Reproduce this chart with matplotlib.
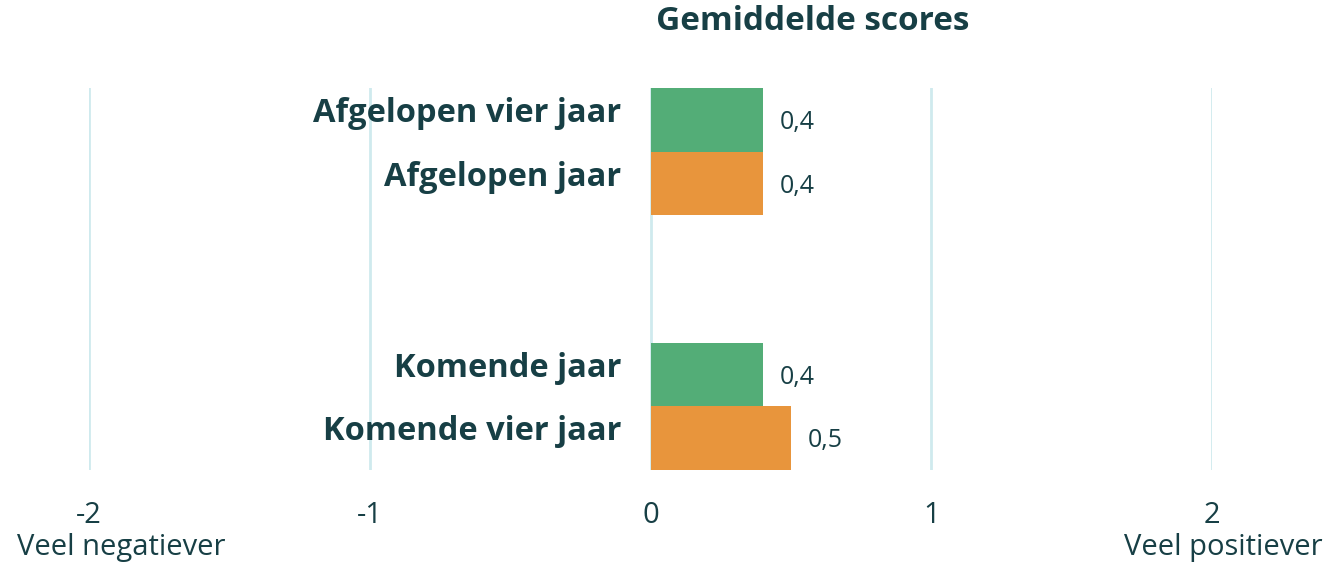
import matplotlib
matplotlib.use('Agg')
import matplotlib.pyplot as plt

# data
labels = ['Afgelopen vier jaar', 'Afgelopen jaar', 'Komende jaar', 'Komende vier jaar']
scores = [0.4, 0.4, 0.4, 0.5]
value_text = ['0,4', '0,4', '0,4', '0,5']
bar_colors = ['#53ad77', '#e8953c', '#53ad77', '#e8953c']
positions = [0, 1, 4, 5]
ticks = [-2, -1, 0, 1, 2]
tick_labels = ['-2', '-1', '0', '1', '2']

text_col = '#173f45'
grid_col = '#cfeaee'
plt.rcParams['font.family'] = ['Open Sans', 'DejaVu Sans']

fig = plt.figure(figsize=(13.3, 5.64), dpi=100)
ax = fig.add_axes([89 / 1330, 1 - 470 / 564, (1212 - 89) / 1330, (470 - 88) / 564])

for t in ticks:
    ax.axvline(t, color=grid_col, lw=2, zorder=0)

ax.barh(positions, scores, height=1.0, color=bar_colors, zorder=2)
ax.set_xlim(-2, 2)
ax.set_ylim(5.5, -0.5)

for p, s, v, lab in zip(positions, scores, value_text, labels):
    ax.text(s + 0.06, p + 0.04, v, va='center', ha='left', fontsize=18,
            color=text_col, fontweight='normal', zorder=3)
    ax.text(-0.105, p - 0.10, lab, va='center', ha='right', fontsize=23.5,
            color=text_col, fontweight='bold', zorder=3)

ax.set_xticks(ticks)
ax.set_xticklabels(tick_labels, fontsize=21, color=text_col, fontweight='normal')
ax.tick_params(axis='x', length=0, pad=22)
ax.set_yticks([])
for sp in ax.spines.values():
    sp.set_visible(False)

fig.text(17 / 1330, 1 - 548 / 564, 'Veel negatiever', ha='left', va='center',
         fontsize=21, color=text_col, fontweight='normal')
fig.text(1323 / 1330, 1 - 548 / 564, 'Veel positiever', ha='right', va='center',
         fontsize=21, color=text_col, fontweight='normal')
fig.text(813 / 1330, 1 - 22 / 564, 'Gemiddelde scores', ha='center', va='center',
         fontsize=24, color=text_col, fontweight='bold')

fig.savefig('out.png', dpi=100, facecolor='white')
